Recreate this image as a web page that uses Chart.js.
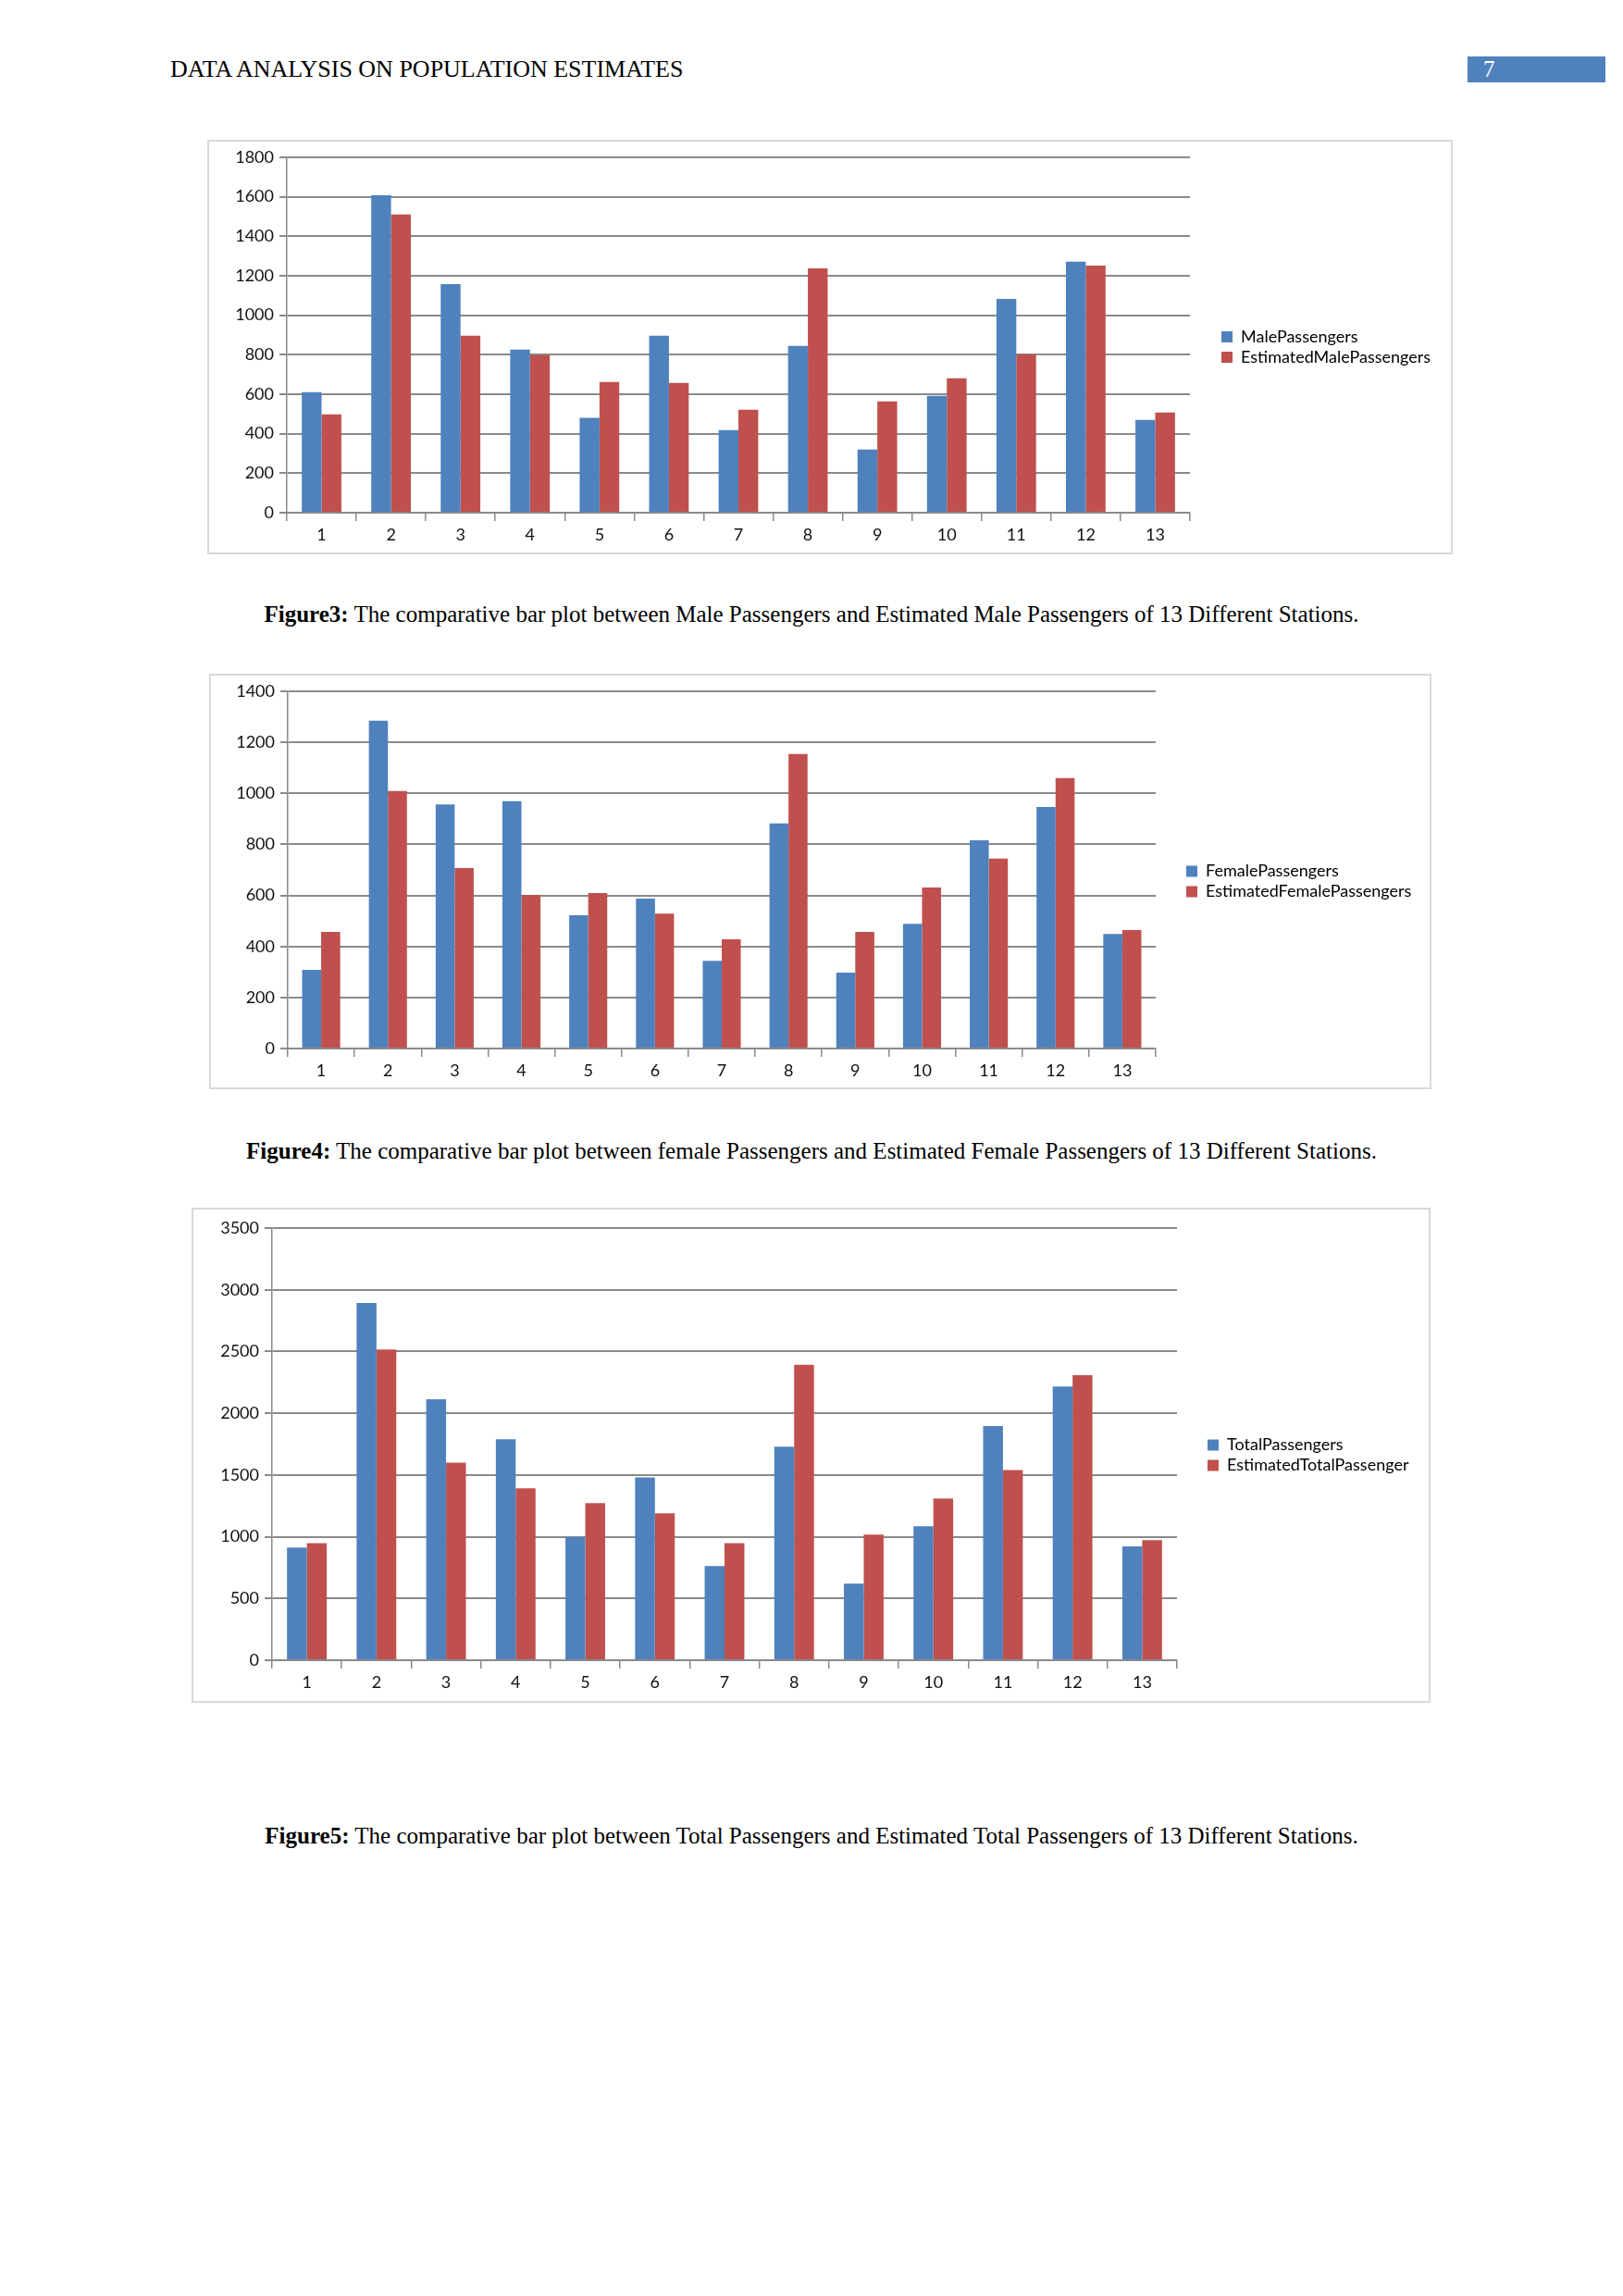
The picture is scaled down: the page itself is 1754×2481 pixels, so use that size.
<!DOCTYPE html>
<html>
<head>
<meta charset="utf-8">
<script src="https://cdn.jsdelivr.net/npm/chart.js@4.4.1/dist/chart.umd.min.js"></script>
<style>
  body { margin: 0; background: #fff; }
  #page { position: relative; width: 1754px; height: 2481px; background: #fff; font-family: "Liberation Serif", "Times New Roman", serif; }
  .header { position: absolute; left: 184px; top: 62px; font-size: 26px; line-height: 26px; color: #000; white-space: nowrap; }
  .pagenum { position: absolute; left: 1586px; top: 61px; width: 149px; height: 28px; background: #4f81bd; color: #fff; font-size: 25px; line-height: 28px; }
  .pagenum span { position: absolute; left: 17px; }
  .box { position: absolute; border: 2px solid #d9d9d9; box-sizing: border-box; background: #fff; }
  .box canvas { position: absolute; left: -2px; top: -2px; }
  .caption { position: absolute; left: 0; width: 1754px; text-align: center; font-size: 25px; line-height: 25px; color: #000; white-space: nowrap; }
</style>
</head>
<body>
<div id="page">
  <div class="header">DATA ANALYSIS ON POPULATION ESTIMATES</div>
  <div class="pagenum"><span>7</span></div>

  <div class="box" style="left:224px; top:151px; width:1346px; height:448px;"><canvas id="chartMale"></canvas></div>
  <div class="caption" style="top:651px;"><b>Figure3:</b> The comparative bar plot between Male Passengers and Estimated Male Passengers of 13 Different Stations.</div>

  <div class="box" style="left:226px; top:728px; width:1321px; height:449px;"><canvas id="chartFemale"></canvas></div>
  <div class="caption" style="top:1231px;"><b>Figure4:</b> The comparative bar plot between female Passengers and Estimated Female Passengers of 13 Different Stations.</div>

  <div class="box" style="left:207px; top:1305px; width:1339px; height:535px;"><canvas id="chartTotal"></canvas></div>
  <div class="caption" style="top:1971px;"><b>Figure5:</b> The comparative bar plot between Total Passengers and Estimated Total Passengers of 13 Different Stations.</div>
</div>

<script>
// station numbers on the x axis
const stations = ['1', '2', '3', '4', '5', '6', '7', '8', '9', '10', '11', '12', '13'];

// Figure 3
const maleActual    = [610, 1608, 1158, 826, 481, 896, 418, 845, 320, 592, 1083, 1272, 470];
const maleEstimated = [498, 1510, 896, 798, 662, 657, 521, 1238, 564, 681, 802, 1252, 507];

// Figure 4
const femaleActual    = [308, 1285, 957, 969, 522, 588, 344, 882, 297, 489, 816, 947, 449];
const femaleEstimated = [457, 1009, 707, 602, 609, 529, 428, 1154, 457, 631, 744, 1060, 464];

// Figure 5
const totalActual    = [913, 2893, 2113, 1789, 999, 1481, 762, 1729, 621, 1085, 1896, 2217, 921];
const totalEstimated = [949, 2517, 1601, 1393, 1273, 1189, 949, 2392, 1017, 1309, 1541, 2308, 973];

const BLUE = '#4f81bd';
const RED = '#c0504d';
const GRID = '#8a8a8a';
const FONT = { family: 'Lato', size: 18 };
const LEG_PAD = 4;
const LEG_BOX = 12;

function legendWidth(names) {
  const ctx = document.createElement('canvas').getContext('2d');
  ctx.font = FONT.size + 'px ' + FONT.family;
  let w = 0;
  names.forEach((n) => { w = Math.max(w, ctx.measureText(n).width); });
  return LEG_PAD + LEG_BOX + FONT.size / 2 + w + 10;
}

// g: plot area and legend position inside the canvas
function drawChart(id, w, h, g, names, actual, estimated, yMax, yStep) {
  const canvas = document.getElementById(id);
  canvas.width = w;
  canvas.height = h;

  const legStart = g.legendX - LEG_PAD;
  const padRight = Math.max(0, w - legStart - legendWidth(names));
  const gap = legStart - g.right;

  new Chart(canvas, {
    type: 'bar',
    data: {
      labels: stations,
      datasets: [
        { label: names[0], data: actual, backgroundColor: BLUE },
        { label: names[1], data: estimated, backgroundColor: RED }
      ]
    },
    options: {
      responsive: false,
      animation: false,
      devicePixelRatio: 1,
      layout: { padding: { left: 0, top: 0, right: padRight, bottom: 0 } },
      datasets: { bar: { categoryPercentage: 0.57, barPercentage: 1.0 } },
      plugins: {
        tooltip: { enabled: false },
        legend: {
          position: 'right',
          labels: {
            boxWidth: LEG_BOX,
            boxHeight: LEG_BOX,
            padding: LEG_PAD,
            color: '#000',
            font: FONT
          }
        }
      },
      scales: {
        x: {
          grid: { drawOnChartArea: false, offset: true, color: GRID, lineWidth: 1.5, tickLength: 9 },
          border: { color: GRID, width: 2 },
          ticks: { color: '#111', font: FONT, padding: 4, maxRotation: 0 },
          afterFit: (s) => { s.height = h - g.bottom; }
        },
        y: {
          min: 0,
          max: yMax,
          grid: { color: GRID, lineWidth: 2, tickLength: 8 },
          border: { color: GRID, width: 1.5 },
          ticks: { stepSize: yStep, color: '#111', font: FONT, padding: 6, callback: (v) => String(v) },
          afterFit: (s) => { s.width = g.left; }
        },
        // empty boxes that only keep space, not counted as visible by the layout
        spaceTop: {
          type: 'linear',
          position: 'top',
          display: false,
          afterFit: (s) => { s.height = g.top; }
        },
        spaceRight: {
          type: 'linear',
          position: 'right',
          display: false,
          afterFit: (s) => { s.width = gap; }
        }
      }
    }
  });
}

drawChart('chartMale', 1346, 448,
  { left: 86, top: 19, right: 1062, bottom: 403, legendX: 1096 },
  ['MalePassengers', 'EstimatedMalePassengers'],
  maleActual, maleEstimated, 1800, 200);

drawChart('chartFemale', 1321, 449,
  { left: 85, top: 19, right: 1023, bottom: 405, legendX: 1056 },
  ['FemalePassengers', 'EstimatedFemalePassengers'],
  femaleActual, femaleEstimated, 1400, 200);

drawChart('chartTotal', 1339, 535,
  { left: 87, top: 22, right: 1065, bottom: 489, legendX: 1098 },
  ['TotalPassengers', 'EstimatedTotalPassenger'],
  totalActual, totalEstimated, 3500, 500);
</script>
</body>
</html>
